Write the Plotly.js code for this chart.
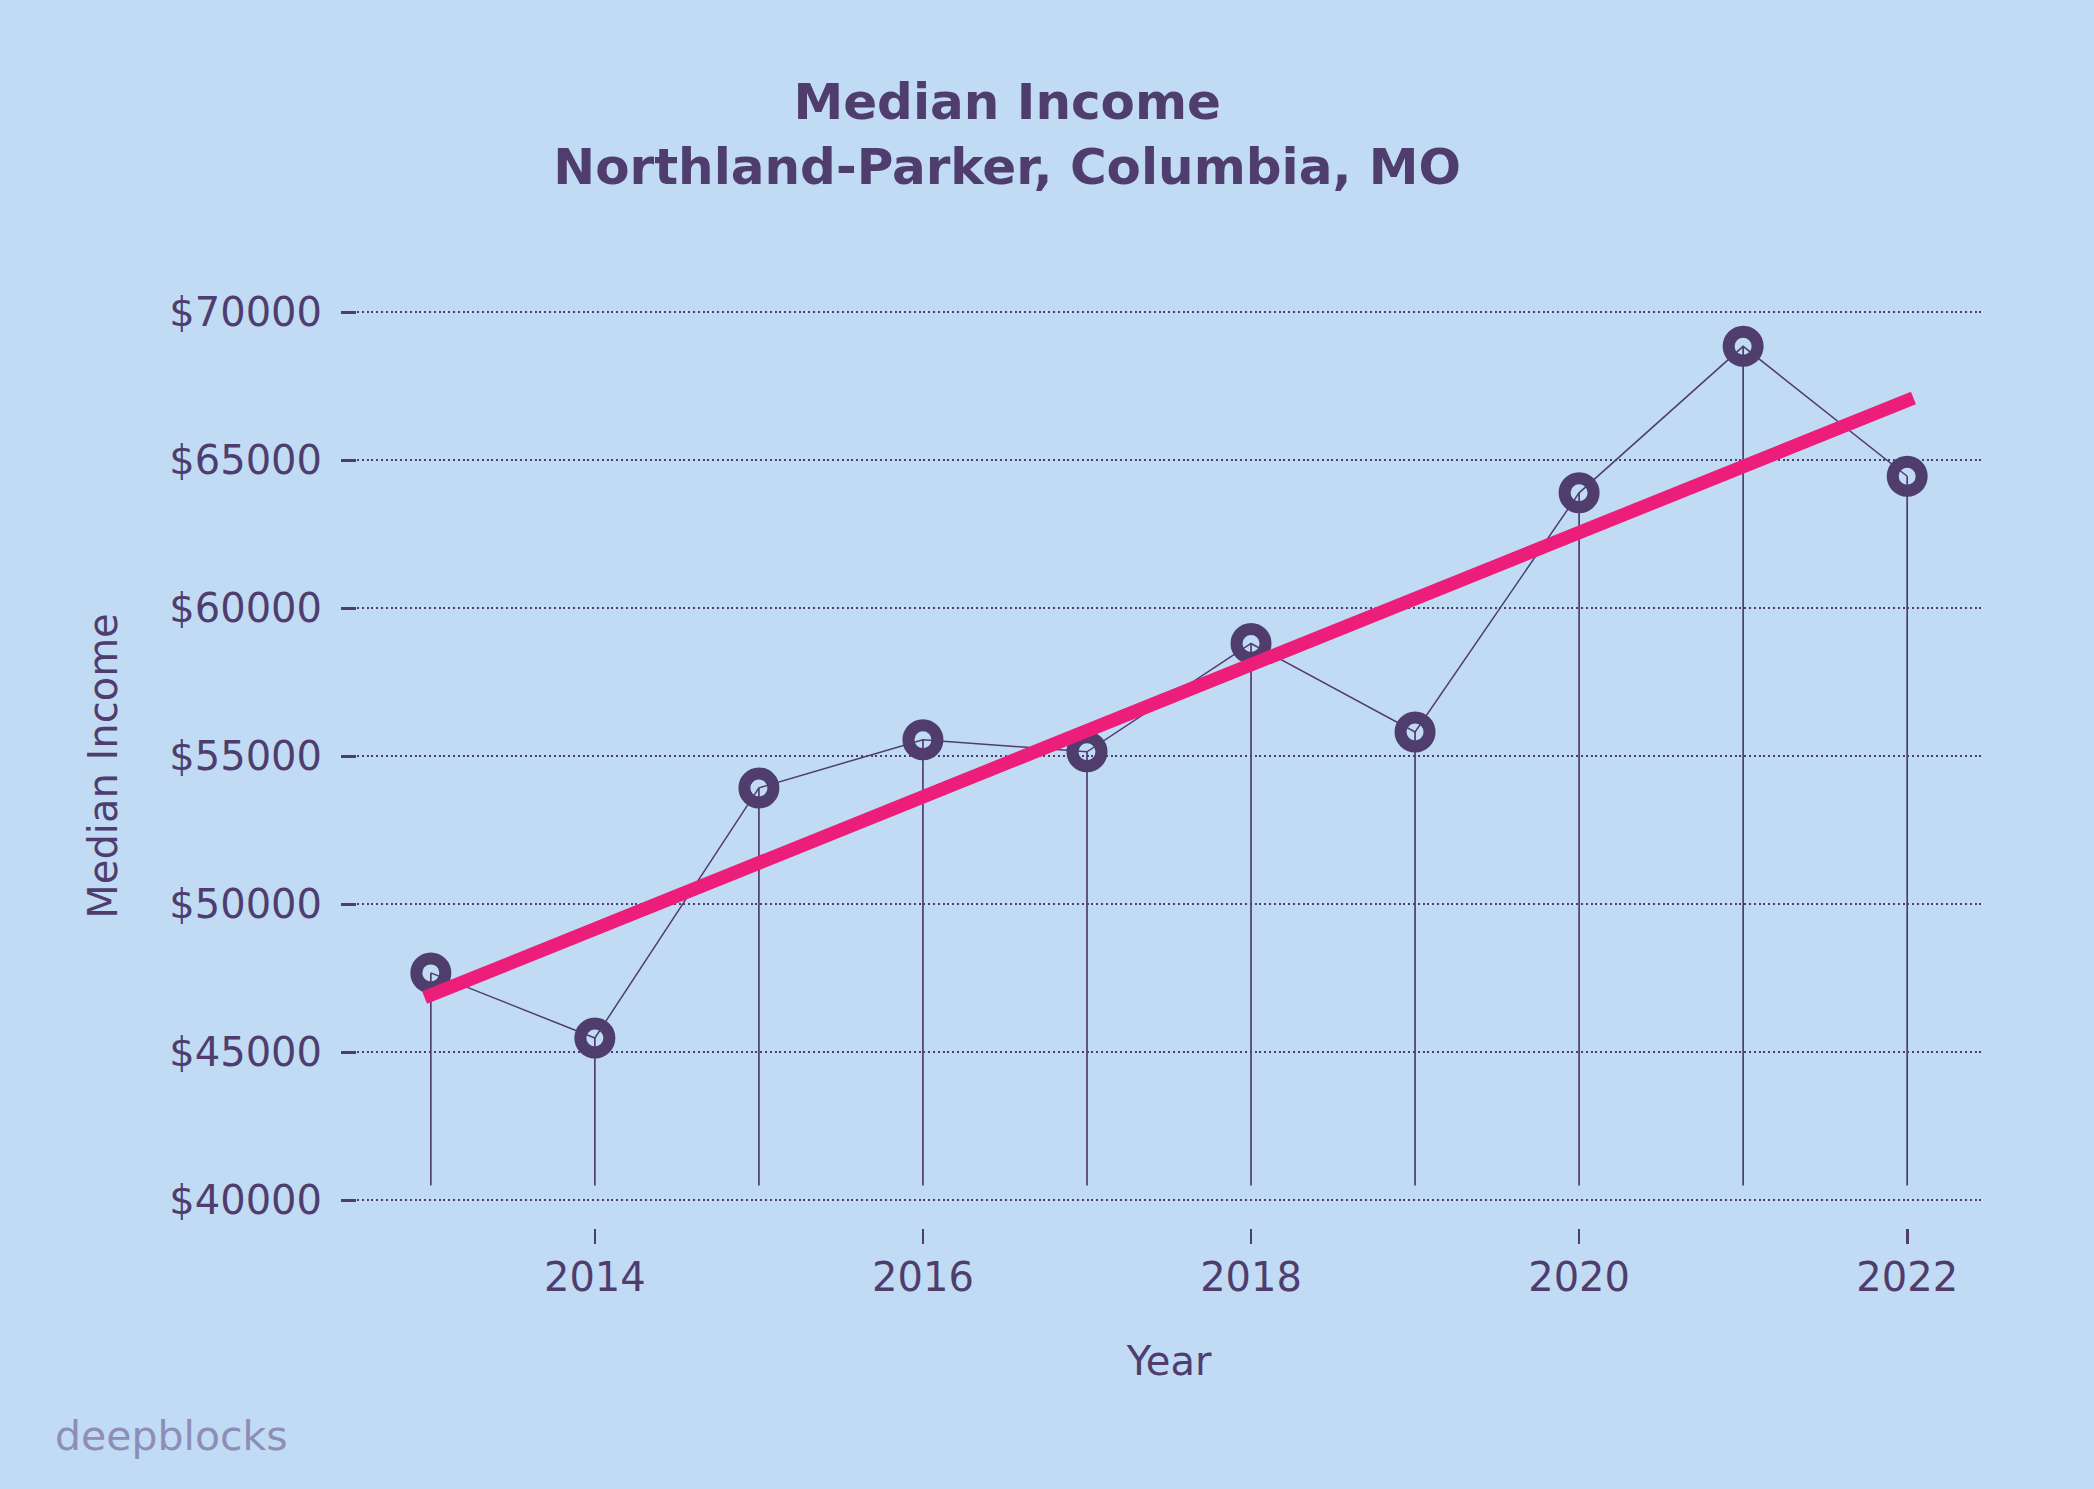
<!DOCTYPE html>
<html>
<head>
<meta charset="utf-8">
<script src="https://cdn.plot.ly/plotly-3.0.1.min.js"></script>
<style>
  html, body { margin: 0; padding: 0; background: #C1DBF4; }
  #chart { width: 2094px; height: 1489px; }
  .scatterlayer .trace:last-child path.js-line { stroke-linecap: square; }
</style>
</head>
<body>
<div id="chart"></div>
<script>
// ---- data ----
const years = [2013, 2014, 2015, 2016, 2017, 2018, 2019, 2020, 2021, 2022];
const medianIncome = [47680, 45480, 53930, 55560, 55150, 58810, 55820, 63900, 68850, 64460];
const trendYears = [2013, 2022];
const trendValues = [46930, 67020];
const stemBase = 40500;
const yTickVals = [40000, 45000, 50000, 55000, 60000, 65000, 70000];
const yTickText = ['$40000', '$45000', '$50000', '$55000', '$60000', '$65000', '$70000'];
const xTickVals = [2014, 2016, 2018, 2020, 2022];
const xTickText = ['2014', '2016', '2018', '2020', '2022'];

// ---- styles ----
const BG = '#C1DBF4';
const PURPLE = '#4F3D6E';
const PINK = '#ED1E79';
const FONT = 'DejaVu Sans';

const stemX = [], stemY = [];
years.forEach((yr, i) => {
  stemX.push(yr, yr, null);
  stemY.push(stemBase, medianIncome[i], null);
});

const traces = [
  {
    type: 'scatter', mode: 'lines', x: stemX, y: stemY,
    line: { color: PURPLE, width: 1.7 }, hoverinfo: 'skip', showlegend: false
  },
  {
    type: 'scatter', mode: 'lines+markers', x: years, y: medianIncome,
    line: { color: PURPLE, width: 1.5 },
    marker: { symbol: 'circle', size: 29, color: 'rgba(0,0,0,0)', line: { color: PURPLE, width: 12 } },
    showlegend: false
  },
  {
    type: 'scatter', mode: 'lines', x: trendYears, y: trendValues,
    line: { color: PINK, width: 13.5 }, showlegend: false
  }
];

const layout = {
  width: 2094, height: 1489,
  paper_bgcolor: BG, plot_bgcolor: BG,
  margin: { l: 357, r: 113, t: 304, b: 261, pad: 0 },
  font: { family: FONT, color: PURPLE, size: 40 },
  showlegend: false,
  title: {
    text: 'Median Income<br>Northland-Parker, Columbia, MO',
    font: { family: FONT, size: 50, color: PURPLE, weight: 700 },
    x: 0.481, xref: 'container', xanchor: 'center',
    y: 1 - 119 / 1489, yref: 'container', yanchor: 'top'
  },
  xaxis: {
    range: [2012.55, 2022.45],
    tickmode: 'array', tickvals: xTickVals, ticktext: xTickText,
    showgrid: false, zeroline: false, showline: false,
    ticks: 'outside', ticklen: 15, tickwidth: 2.7, tickcolor: PURPLE,
    tickfont: { family: FONT, size: 40, color: PURPLE },
    ticklabelstandoff: -1,
    title: { text: 'Year', font: { family: FONT, size: 40, color: PURPLE }, standoff: 47 },
    automargin: false
  },
  yaxis: {
    range: [39060, 70280],
    tickmode: 'array', tickvals: yTickVals, ticktext: yTickText,
    showgrid: true, gridcolor: PURPLE, gridwidth: 1.6, griddash: '2px,2.8px',
    zeroline: false, showline: false,
    ticks: 'outside', ticklen: 15, tickwidth: 2.7, tickcolor: PURPLE,
    tickfont: { family: FONT, size: 40, color: PURPLE },
    ticklabelstandoff: 11,
    title: { text: 'Median Income', font: { family: FONT, size: 40, color: PURPLE }, standoff: 39 },
    automargin: false
  },
  annotations: [
    {
      text: 'deepblocks', xref: 'paper', yref: 'paper',
      x: (53 - 357) / 1624, y: (1228 - 1436) / 924,
      xanchor: 'left', yanchor: 'middle', showarrow: false,
      font: { family: FONT, size: 41, color: '#8E8DB8' }
    }
  ]
};

Plotly.newPlot('chart', traces, layout, { staticPlot: true, displayModeBar: false });
</script>
</body>
</html>
